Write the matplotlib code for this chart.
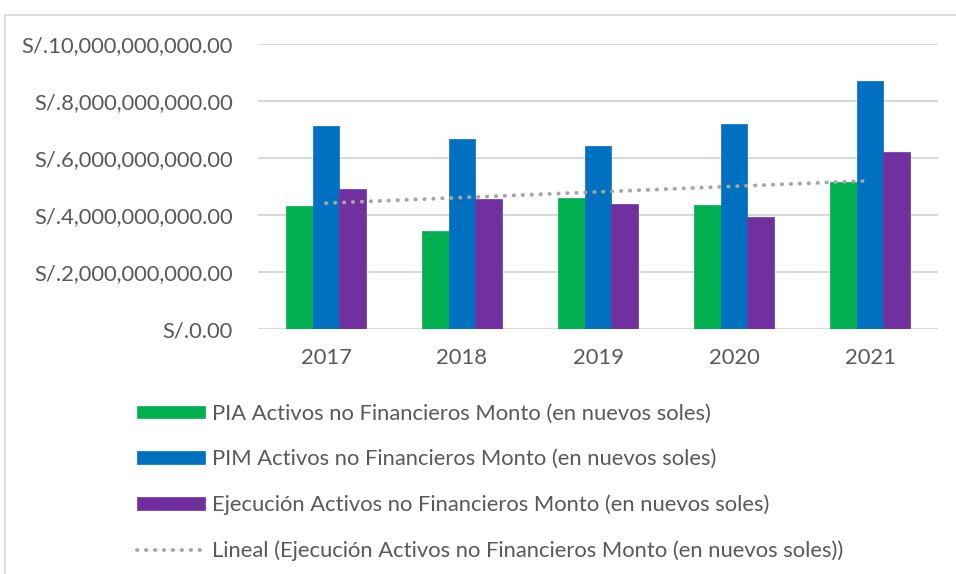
import numpy as np
import matplotlib
matplotlib.use("Agg")
import matplotlib.pyplot as plt
from matplotlib.patches import Rectangle
from matplotlib.ticker import FuncFormatter

# Data (values in soles)
years = ["2017", "2018", "2019", "2020", "2021"]
pia = [4.30e9, 3.45e9, 4.61e9, 4.35e9, 5.16e9]
pim = [7.12e9, 6.67e9, 6.41e9, 7.21e9, 8.70e9]
ejecucion = [4.92e9, 4.57e9, 4.40e9, 3.94e9, 6.22e9]

labels = [
    "PIA Activos no Financieros Monto (en nuevos soles)",
    "PIM Activos no Financieros Monto (en nuevos soles)",
    "Ejecución Activos no Financieros Monto (en nuevos soles)",
    "Lineal (Ejecución Activos no Financieros Monto (en nuevos soles))",
]
colors = ["#00B050", "#0070C0", "#7030A0"]
text_color = "#595959"
fs = 15.8

plt.rcParams["font.family"] = ["Lato", "DejaVu Sans"]

W, H = 956, 574
fig = plt.figure(figsize=(W / 100, H / 100), dpi=100)

# light border of the chart area
fig.patches.append(Rectangle((5 / W, -0.1), 1.2, 1 - 15 / H + 0.1, transform=fig.transFigure,
                             fill=False, edgecolor="#d9d9d9", linewidth=1.2))

ax = fig.add_axes([258 / W, 1 - 329 / H, 680 / W, 285 / H])

x = np.arange(len(years))
w = 0.195
series = [pia, pim, ejecucion]
for i, (vals, c, lab) in enumerate(zip(series, colors, labels)):
    ax.bar(x + (i - 1) * w, vals, width=w, color=c, edgecolor=c, linewidth=0.5,
           label=lab, zorder=3)

# linear trend of the execution series
coef = np.polyfit(x, ejecucion, 1)
ax.plot(x, np.polyval(coef, x), linestyle=(0, (0.1, 2.2)), dash_capstyle="round",
        color="#A5A5A5", linewidth=2.8, label=labels[3], zorder=4)

ax.set_xlim(-0.5, len(years) - 0.5)
ax.set_ylim(0, 10e9)
ax.set_yticks(np.arange(0, 10.01e9, 2e9))
ax.yaxis.set_major_formatter(FuncFormatter(lambda v, p: f"S/.{v:,.2f}"))
ax.set_xticks(x)
ax.set_xticklabels(years)
ax.grid(axis="y", color="#d9d9d9", linewidth=1.5, zorder=0)
ax.set_axisbelow(True)
for s in ax.spines.values():
    s.set_visible(False)
ax.tick_params(length=0, labelsize=fs, colors=text_color)
ax.tick_params(axis="y", pad=18)
ax.tick_params(axis="x", pad=14)

handles, labs = ax.get_legend_handles_labels()
order = [1, 2, 3, 0]
leg = fig.legend([handles[i] for i in order], [labs[i] for i in order],
                 loc="upper left", bbox_to_anchor=(117 / W, 1 - 384 / H),
                 frameon=False, fontsize=fs, labelcolor=text_color,
                 handlelength=3.1, handleheight=0.5, handletextpad=0.35,
                 labelspacing=1.16)

fig.savefig("out.png", dpi=100)
